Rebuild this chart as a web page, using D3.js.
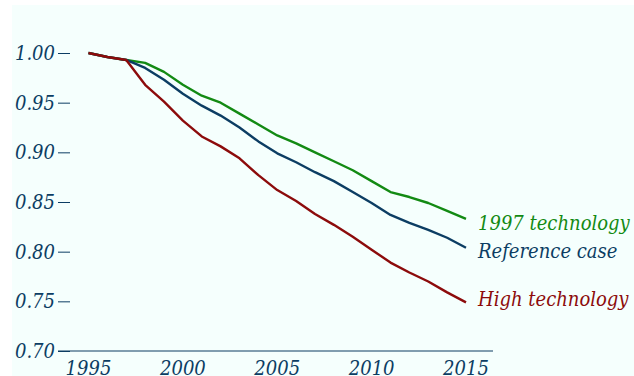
<!DOCTYPE html>
<html>
<head>
<meta charset="utf-8">
<script src="https://cdn.jsdelivr.net/npm/d3@7"></script>
<style>
  body { margin: 0; background: #ffffff; }
  svg text { font-family: "DejaVu Serif Condensed", "DejaVu Serif", serif; font-stretch: condensed; font-style: italic; }
</style>
</head>
<body>
<svg id="chart"></svg>
<script>
const years = d3.range(1995, 2016);
const tech1997 = [1.000, 0.996, 0.993, 0.990, 0.981, 0.968, 0.957, 0.950, 0.939, 0.928, 0.917,
                  0.909, 0.900, 0.891, 0.882, 0.871, 0.860, 0.855, 0.849, 0.841, 0.833];
const reference = [1.000, 0.996, 0.993, 0.985, 0.973, 0.959, 0.947, 0.937, 0.925, 0.911, 0.899,
                   0.890, 0.880, 0.871, 0.860, 0.849, 0.837, 0.829, 0.822, 0.814, 0.804];
const highTech = [1.000, 0.996, 0.993, 0.968, 0.951, 0.932, 0.916, 0.906, 0.894, 0.877, 0.862,
                  0.851, 0.838, 0.827, 0.815, 0.802, 0.789, 0.779, 0.770, 0.759, 0.749];
const yTicks = [0.70, 0.75, 0.80, 0.85, 0.90, 0.95, 1.00];
const xTicks = [1995, 2000, 2005, 2010, 2015];

const series = [
  { name: '1997 technology', values: tech1997, color: '#138a13' },
  { name: 'Reference case', values: reference, color: '#0c3d63' },
  { name: 'High technology', values: highTech, color: '#8c0b0b' }
];

const width = 634, height = 376;
const svg = d3.select('#chart').attr('width', width).attr('height', height);

svg.append('rect')
  .attr('x', 12).attr('y', 5)
  .attr('width', width - 12).attr('height', height - 5)
  .attr('fill', '#f5fffd');

const xscale = d3.scaleLinear().domain([1995, 2015]).range([88.5, 466]);
const yscale = d3.scaleLinear().domain([0.70, 1.00]).range([351, 53]);

const axisColor = '#0c3d63';

// y axis: ticks only
const yaxis = d3.axisLeft(yscale)
  .tickValues(yTicks)
  .tickFormat(d3.format('.2f'))
  .tickSize(12)
  .tickPadding(3);

const yg = svg.append('g')
  .attr('transform', 'translate(70,0)')
  .call(yaxis);
yg.select('.domain').remove();
yg.selectAll('line').attr('stroke', axisColor).attr('stroke-width', 1);
yg.selectAll('text')
  .attr('fill', axisColor)
  .style('font-size', '20px')
  .attr('dy', '0.33em');

// x axis line and labels
svg.append('line')
  .attr('x1', 58).attr('x2', 493)
  .attr('y1', 351).attr('y2', 351)
  .attr('stroke', axisColor).attr('stroke-width', 1.2);

svg.append('g').selectAll('text')
  .data(xTicks)
  .join('text')
  .attr('x', d => xscale(d))
  .attr('y', 375)
  .attr('text-anchor', 'middle')
  .attr('fill', axisColor)
  .style('font-size', '20px')
  .text(d => d);

const line = d3.line()
  .x((d, i) => xscale(years[i]))
  .y(d => yscale(d));

svg.append('g').selectAll('path')
  .data(series)
  .join('path')
  .attr('d', d => line(d.values))
  .attr('fill', 'none')
  .attr('stroke', d => d.color)
  .attr('stroke-width', 2.4)
  .attr('stroke-linejoin', 'round');

svg.append('g').selectAll('text')
  .data(series)
  .join('text')
  .attr('x', 478)
  .attr('y', (d, i) => [230, 258, 306][i])
  .attr('fill', d => d.color)
  .style('font-size', '20px')
  .text(d => d.name);
</script>
</body>
</html>
